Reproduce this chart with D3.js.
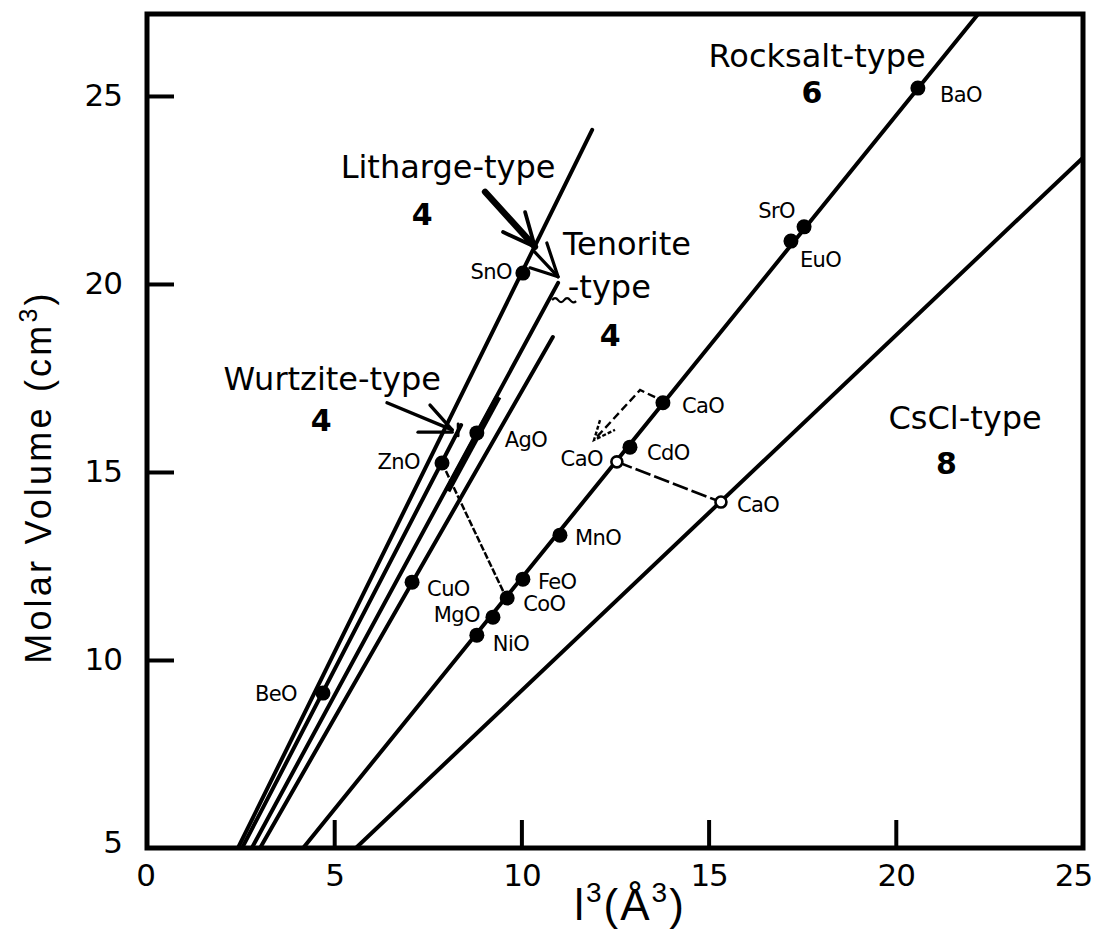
<!DOCTYPE html>
<html>
<head>
<meta charset="utf-8">
<script src="https://cdn.jsdelivr.net/npm/d3@7"></script>
<style>
  body { margin: 0; background: #fff; }
  text { fill: #000; }
</style>
</head>
<body>
<svg id="chart" width="1098" height="934"></svg>
<script>
// ---- data -------------------------------------------------------------
// axis ticks
const xTicks = [0, 5, 10, 15, 20, 25];
const yTicks = [5, 10, 15, 20, 25];

// structure-type trend lines: molar volume vs l^3
const lineNames = ["Litharge", "Wurtzite", "Tenorite", "CuO", "Rocksalt", "CsCl"];
const lineX0 = [2.43, 2.54, 2.80, 3.02, 4.17, 5.58];
const lineY0 = [5, 5, 5, 5, 5, 5];
const lineX1 = [11.89, 8.39, 10.98, 10.84, 22.20, 25.0];
const lineY1 = [24.10, 16.25, 20.03, 18.59, 27.18, 23.36];

// oxides
const compounds = ["BeO", "ZnO", "AgO", "SnO", "CuO", "NiO", "MgO", "CoO", "FeO",
                   "MnO", "CdO", "CaO", "CaO", "CaO", "EuO", "SrO", "BaO"];
const l3    = [4.70, 7.88, 8.81, 10.04, 7.08, 8.81, 9.24, 9.62, 10.04,
               11.03, 12.90, 13.78, 12.55, 15.33, 17.20, 17.55, 20.59];
const molV  = [9.12, 15.24, 16.04, 20.29, 12.07, 10.66, 11.14, 11.65, 12.15,
               13.32, 15.66, 16.84, 15.27, 14.20, 21.14, 21.52, 25.21];
const hypothetical = [false, false, false, false, false, false, false, false, false,
                      false, false, false, true, true, false, false, false];

// structure type captions and coordination numbers
const typeText = ["Litharge-type", "4", "Tenorite", "-type", "4", "Wurtzite-type", "4",
                  "Rocksalt-type", "6", "CsCl-type", "8"];
const typeX = [8.04, 7.35, 11.11, 11.24, 12.37, 4.95, 4.65, 17.90, 17.76, 21.85, 21.35];
const typeY = [22.82, 21.57, 20.77, 19.63, 18.35, 17.18, 16.09, 25.77, 24.81, 16.15, 14.95];

// ---- layout -----------------------------------------------------------
// label offsets (px) relative to each oxide marker: [dx, dy, anchor]
const labelPos = [
  [-26, 0, "end"], [-22, -2, "end"], [28, 7, "start"], [-11, -2, "end"],
  [15, 6, "start"], [16, 8, "start"], [-13, -3, "end"], [16, 5, "start"],
  [15, 2, "start"], [15, 2, "start"], [17, 5, "start"], [19, 3, "start"],
  [-14, -3, "end"], [16, 2, "start"], [9, 18, "start"], [-9, -16, "end"],
  [22, 6, "start"]
];
const typeAnchor = ["middle", "middle", "start", "start", "middle", "middle", "middle",
                    "middle", "middle", "middle", "middle"];
const typeBold = [false, true, false, false, true, false, true, false, true, false, true];

const W = 1098, H = 934;
const svg = d3.select("#chart");
const x = d3.scaleLinear().domain([0, 25]).range([147, 1083]);
const y = d3.scaleLinear().domain([5, 27.18]).range([848, 14]);

const FONT = "'DejaVu Sans', Verdana, sans-serif";
const HELV = "'Liberation Sans', Arial, sans-serif";

svg.append("rect").attr("width", W).attr("height", H).attr("fill", "#fff");

svg.append("defs").append("clipPath").attr("id", "plotClip")
  .append("rect")
  .attr("x", x(0)).attr("y", y(27.18))
  .attr("width", x(25) - x(0)).attr("height", y(5) - y(27.18));

const plot = svg.append("g").attr("clip-path", "url(#plotClip)");

// trend lines
plot.selectAll("line.trend")
  .data(lineNames.map((n, i) => ({ n, x0: lineX0[i], y0: lineY0[i], x1: lineX1[i], y1: lineY1[i] })))
  .join("line")
  .attr("class", "trend")
  .attr("x1", d => x(d.x0)).attr("y1", d => y(d.y0))
  .attr("x2", d => x(d.x1)).attr("y2", d => y(d.y1))
  .attr("stroke", "#000").attr("stroke-width", 4).attr("stroke-linecap", "round");

// heavier stretch of the tenorite line around AgO
{
  const i = 2;
  const slope = (lineY1[i] - lineY0[i]) / (lineX1[i] - lineX0[i]);
  const xAt = v => lineX0[i] + (v - lineY0[i]) / slope;
  plot.append("line")
    .attr("x1", x(xAt(14.5)) + 2).attr("y1", y(14.5))
    .attr("x2", x(xAt(17.0)) + 2).attr("y2", y(17.0))
    .attr("stroke", "#000").attr("stroke-width", 6.5);
}

const lineGen = d3.line().x(d => x(d[0])).y(d => y(d[1]));

// ZnO wurtzite -> rocksalt tie line
plot.append("path")
  .attr("d", lineGen([[l3[1], molV[1]], [9.55, 11.75]]))
  .attr("fill", "none").attr("stroke", "#000").attr("stroke-width", 2.5)
  .attr("stroke-dasharray", "7,2");

// CaO rocksalt -> CsCl tie line
plot.append("path")
  .attr("d", lineGen([[l3[12], molV[12]], [l3[13], molV[13]]]))
  .attr("fill", "none").attr("stroke", "#000").attr("stroke-width", 2.6)
  .attr("stroke-dasharray", "16,4");

// CaO dashed arrow
plot.append("path")
  .attr("d", lineGen([[13.57, 16.99], [13.17, 17.18], [11.94, 15.85]]))
  .attr("fill", "none").attr("stroke", "#000").attr("stroke-width", 2.4)
  .attr("stroke-dasharray", "8,4");
plot.append("path")
  .attr("d", lineGen([[12.10, 16.38], [11.94, 15.85], [12.50, 16.12]]))
  .attr("fill", "none").attr("stroke", "#000").attr("stroke-width", 2.4)
  .attr("stroke-dasharray", "4,2");

// caption arrows
const solid = (pts, w) => plot.append("path")
  .attr("d", lineGen(pts)).attr("fill", "none")
  .attr("stroke", "#000").attr("stroke-width", w)
  .attr("stroke-linecap", "round").attr("stroke-linejoin", "round");

// Litharge-type
solid([[9.03, 22.45], [10.36, 20.99]], 6.5);
solid([[9.51, 21.38], [10.36, 20.99], [10.10, 21.91]], 3.8);
// Tenorite-type
solid([[10.31, 20.90], [10.98, 20.19]], 3.2);
solid([[10.68, 21.09], [10.98, 20.19], [10.23, 20.43]], 3.2);
// Wurtzite-type
solid([[6.41, 16.84], [8.15, 16.12]], 3.4);
solid([[7.56, 16.78], [8.15, 16.12]], 3.4);
solid([[7.24, 16.06], [8.15, 16.06]], 3.4);
solid([[8.31, 16.28], [8.31, 15.96]], 2.8);

// wavy leader from "-type" to its line
{
  const sx = x(10.82), sy = y(19.57);
  plot.append("path")
    .attr("d", `M${sx},${sy} q3,-4 6,0 t6,0 t6,0 t6,1`)
    .attr("fill", "none").attr("stroke", "#000").attr("stroke-width", 2.2);
}

// markers
const pts = compounds.map((c, i) => ({ c, x: l3[i], y: molV[i], open: hypothetical[i], lp: labelPos[i] }));
svg.append("g").selectAll("circle")
  .data(pts)
  .join("circle")
  .attr("cx", d => x(d.x)).attr("cy", d => y(d.y))
  .attr("r", d => d.open ? 5.5 : 7.5)
  .attr("fill", d => d.open ? "#fff" : "#000")
  .attr("stroke", "#000").attr("stroke-width", d => d.open ? 2.6 : 0);

svg.append("g").selectAll("text")
  .data(pts)
  .join("text")
  .attr("x", d => x(d.x) + d.lp[0])
  .attr("y", d => y(d.y) + d.lp[1])
  .attr("dy", "0.36em")
  .attr("text-anchor", d => d.lp[2])
  .attr("font-family", FONT).attr("font-size", 21)
  .attr("letter-spacing", -0.6)
  .text(d => d.c);

// structure-type captions
svg.append("g").selectAll("text")
  .data(typeText.map((t, i) => ({ t, x: typeX[i], y: typeY[i], a: typeAnchor[i], b: typeBold[i] })))
  .join("text")
  .attr("x", d => x(d.x)).attr("y", d => y(d.y))
  .attr("text-anchor", d => d.a)
  .attr("font-family", FONT)
  .attr("font-size", d => d.b ? 30 : 32)
  .attr("font-weight", d => d.b ? "bold" : "normal")
  .text(d => d.t);

// axes
const xAxis = svg.append("g").attr("transform", `translate(0,${y(5)})`)
  .call(d3.axisBottom(x).tickValues(xTicks).tickSize(-28).tickPadding(16).tickFormat(d3.format("d")));
const yAxis = svg.append("g").attr("transform", `translate(${x(0)},0)`)
  .call(d3.axisLeft(y).tickValues(yTicks).tickSize(-27).tickPadding(25).tickFormat(d3.format("d")));

[xAxis, yAxis].forEach(g => {
  g.select(".domain").remove();
  g.selectAll(".tick line").attr("stroke", "#000").attr("stroke-width", 4);
  g.selectAll(".tick text").attr("font-family", FONT).attr("font-size", 31)
    .attr("letter-spacing", -1).attr("fill", "#000");
});
xAxis.selectAll(".tick").filter(d => d === 0 || d === 25).select("line").remove();
xAxis.selectAll(".tick").filter(d => d === 25).select("text").attr("x", -10);
xAxis.selectAll(".tick").filter(d => d === 0).select("text").attr("x", -2);
yAxis.selectAll(".tick").filter(d => d === 5).select("line").remove();
yAxis.selectAll(".tick").filter(d => d === 5).select("text").attr("y", -5);

// frame
svg.append("rect")
  .attr("x", x(0)).attr("y", y(27.18))
  .attr("width", x(25) - x(0)).attr("height", y(5) - y(27.18))
  .attr("fill", "none").attr("stroke", "#000").attr("stroke-width", 5);

// axis titles
const yTitle = svg.append("text")
  .attr("transform", `translate(51,${(y(5) + y(27.18)) / 2 + 46}) rotate(-90)`)
  .attr("text-anchor", "middle")
  .attr("font-family", HELV).attr("font-size", 36).attr("letter-spacing", 3.2);
yTitle.append("tspan").text("Molar Volume (cm");
yTitle.append("tspan").attr("dy", -14).attr("font-size", 25).text("3");
yTitle.append("tspan").attr("dy", 14).text(")");

const xTitle = svg.append("text")
  .attr("x", 630).attr("y", 920)
  .attr("text-anchor", "middle")
  .attr("font-family", HELV).attr("font-size", 44).attr("letter-spacing", 2);
xTitle.append("tspan").text("l");
xTitle.append("tspan").attr("dy", -18).attr("font-size", 28).text("3");
xTitle.append("tspan").attr("dy", 18).text("(Å");
xTitle.append("tspan").attr("dy", -18).attr("font-size", 28).text("3");
xTitle.append("tspan").attr("dy", 18).text(")");
</script>
</body>
</html>
